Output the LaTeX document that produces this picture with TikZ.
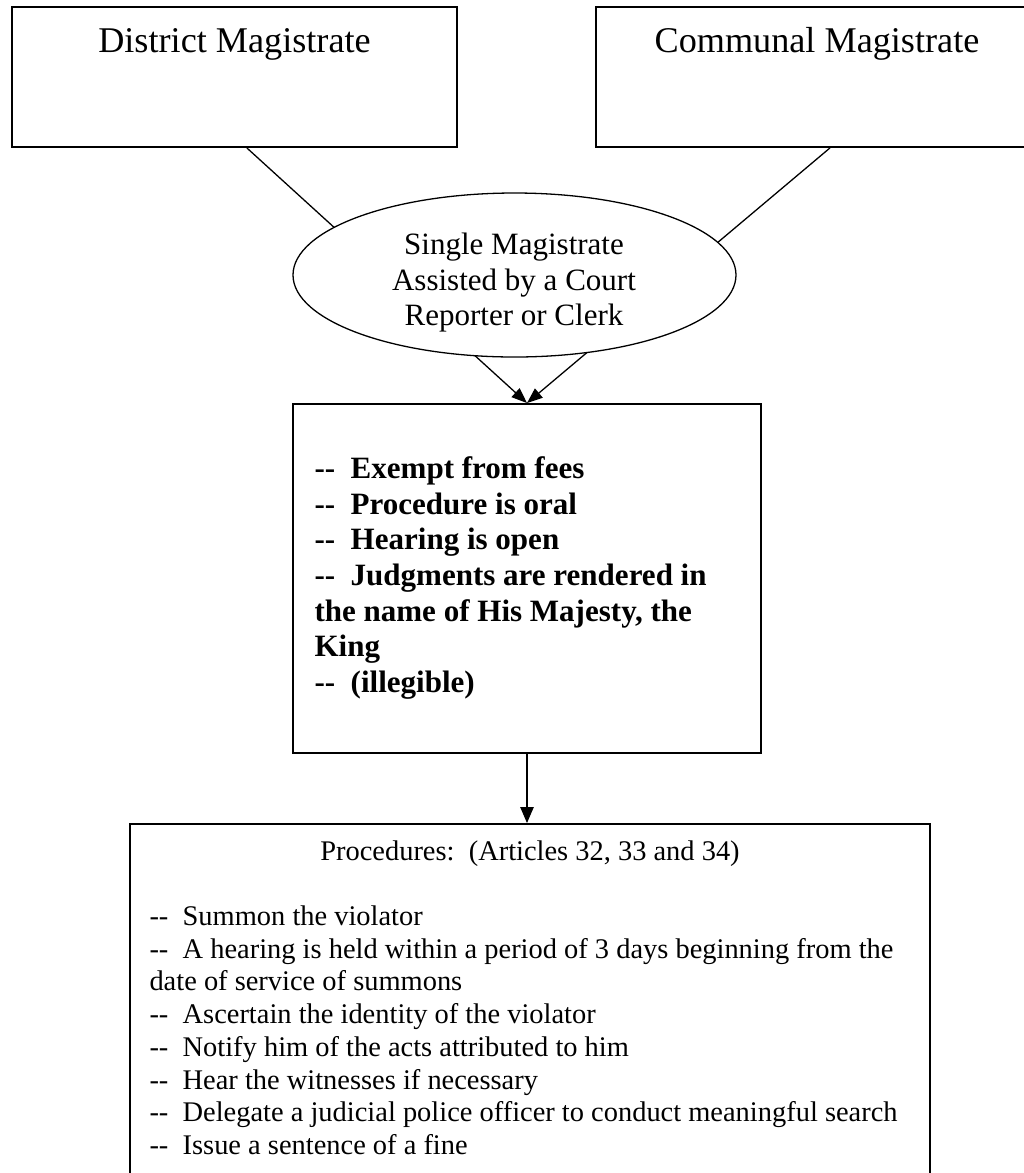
\documentclass[tikz,border=0pt]{standalone}
\usepackage{fontspec}
\setmainfont{Liberation Serif}
\usetikzlibrary{arrows.meta,fit,shapes.geometric}
% two hyphens kept apart so they do not turn into a dash
\newcommand\dd{-\kern0pt-}
% fixes the height of a first line, so north anchors sit a known distance above the first baseline
\newcommand\firstrow{\rule{0pt}{0.9em}}
\begin{document}
\begin{tikzpicture}[x=0.3868pt,y=-0.3868pt,
  box/.style={draw,line width=0.75pt,inner sep=0pt},
  conn/.style={line width=0.5pt},
  tip/.style={-{Triangle[length=6pt,width=4.6pt]}},
  downtip/.style={-{Triangle[length=6.2pt,width=5.2pt]}},
  ftop/.style={font=\fontsize{14}{16.1}\selectfont},
  fmid/.style={font=\fontsize{12}{13.8}\selectfont},
  fbold/.style={font=\fontsize{12}{13.8}\selectfont\bfseries},
  flow/.style={font=\fontsize{11}{12.65}\selectfont},
  txt/.style={inner sep=0pt,align=left}]
\useasboundingbox (0,0) rectangle (1024,1173);
\clip (0,0) rectangle (1024,1173);
\fill[white] (0,0) rectangle (1024,1173);

% the two magistrates
\node[box,fit={(12,7) (457,147)}] (dm) {};
\node[ftop,inner sep=0pt,anchor=base] (dmt) at (234.5,52) {District Magistrate};
\node[box,fit={(596,7) (1038,147)}] (cm) {};
\node[ftop,inner sep=0pt,anchor=base] (cmt) at (817,52) {Communal Magistrate};

% features of the court
\node[box,fit={(293,404) (761,753)}] (cb) {};
\node[fbold,txt,anchor=north west] (cbt) at (314,450.1)
  {\firstrow\dd\hspace{0.5em}Exempt from fees\\
   \dd\hspace{0.5em}Procedure is oral\\
   \dd\hspace{0.5em}Hearing is open\\
   \dd\hspace{0.5em}Judgments are rendered in\\
   the name of His Majesty, the\\
   King\\
   \dd\hspace{0.5em}(illegible)};

% procedures
\node[box,fit={(130,824) (930,1200)}] (pb) {};
\node[flow,inner sep=0pt,anchor=base] (pbh) at (530,860)
  {Procedures:\hspace{0.5em}(Articles 32, 33 and 34)};
\node[flow,txt,anchor=north west] (pbt) at (149,899.4)
  {\firstrow\dd\hspace{0.5em}Summon the violator\\
   \dd\hspace{0.5em}A hearing is held within a period of 3 days beginning from the\\
   date of service of summons\\
   \dd\hspace{0.5em}Ascertain the identity of the violator\\
   \dd\hspace{0.5em}Notify him of the acts attributed to him\\
   \dd\hspace{0.5em}Hear the witnesses if necessary\\
   \dd\hspace{0.5em}Delegate a judicial police officer to conduct meaningful search\\
   \dd\hspace{0.5em}Issue a sentence of a fine};

% connectors: both magistrates lead through the single magistrate to the court box
\coordinate (dmout) at ([xshift=4.8pt]dm.south);
\coordinate (cmout) at ([xshift=5.0pt]cm.south);
\draw[conn,tip] (dmout) -- (cb.north);
\draw[conn,tip] (cmout) -- (cb.north);
\draw[conn,downtip] (cb.south) -- (cb.south |- pb.north);

% single magistrate, drawn over the crossing lines
\node[ellipse,draw,fill=white,line width=0.5pt,inner sep=0pt,
  minimum width=443*0.3868pt,minimum height=164*0.3868pt] (sm) at (514.5,275) {};
\node[fmid,inner sep=0pt,align=center,anchor=north] (smt) at (514,226.1)
  {\firstrow Single Magistrate\\Assisted by a Court\\Reporter or Clerk};
\end{tikzpicture}
\end{document}
